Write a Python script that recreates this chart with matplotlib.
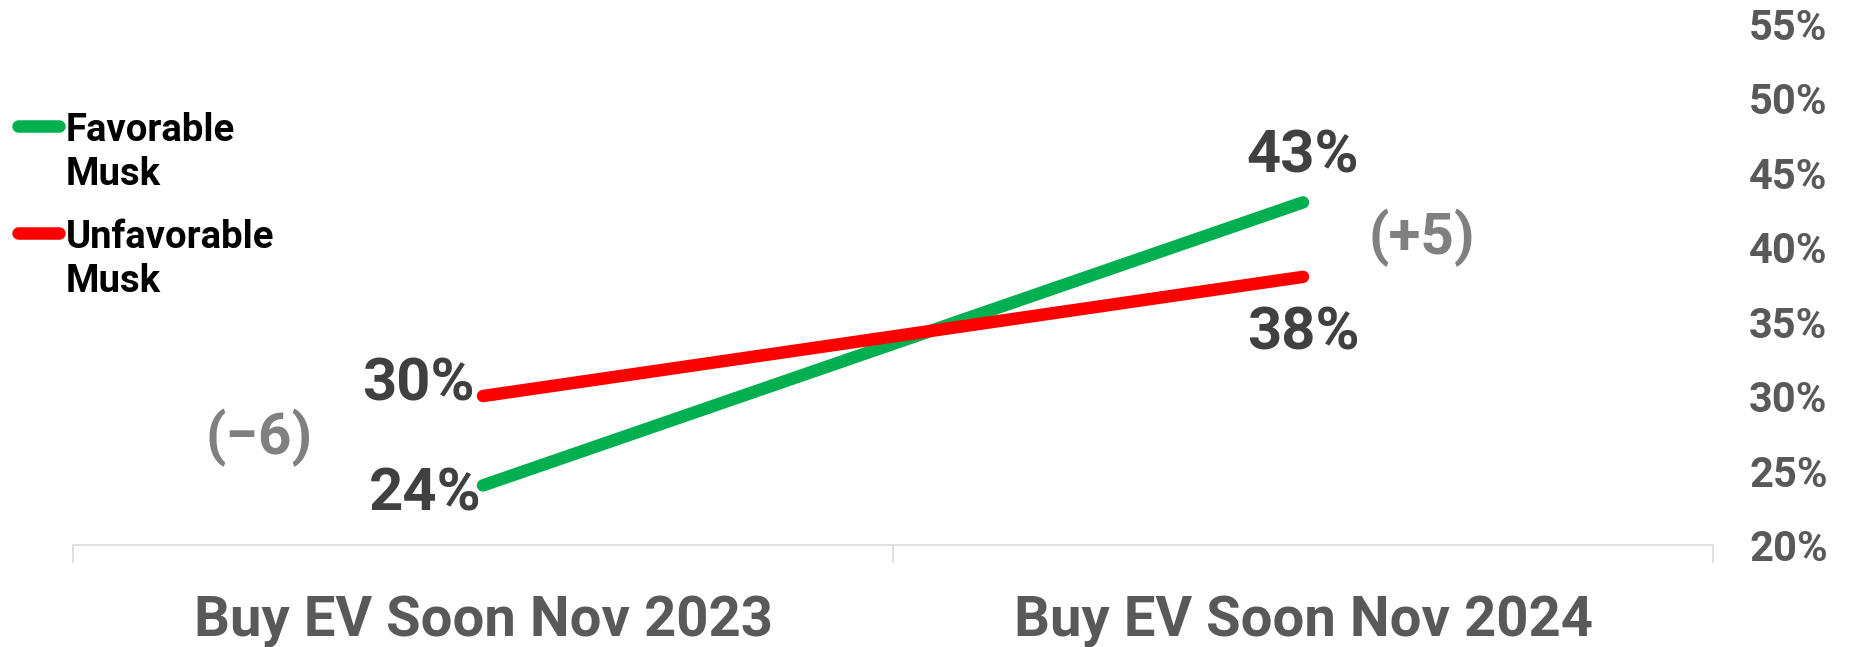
import matplotlib
matplotlib.use("Agg")
import matplotlib.pyplot as plt
from matplotlib.lines import Line2D

# ---- data ----
categories = ["Buy EV Soon Nov 2023", "Buy EV Soon Nov 2024"]
series_names = ["Favorable\nMusk", "Unfavorable\nMusk"]
favorable = [24, 43]
unfavorable = [30, 38]
changes = ["(\u22126)", "(+5)"]
yticks = [20, 25, 30, 35, 40, 45, 50, 55]
ytick_labels = [f"{v}%" for v in yticks]

GREEN = "#00B050"
RED = "#FF0000"
LABEL_C = "#404040"
TICK_C = "#595959"
CHANGE_C = "#808080"
AXIS_C = "#D9D9D9"

W, H = 1850, 647
fig = plt.figure(figsize=(W / 100, H / 100), dpi=100)
ax = fig.add_axes([73 / W, 102 / H, (1713 - 73) / W, (623.4 - 102) / H])

x = list(range(len(categories)))
ax.plot(x, favorable, color=GREEN, lw=9, solid_capstyle="round", zorder=3)
ax.plot(x, unfavorable, color=RED, lw=9, solid_capstyle="round", zorder=3)

ax.set_xlim(-0.5, len(categories) - 0.5)
ax.set_ylim(yticks[0], yticks[-1])

# data labels
lab_font = dict(family="Roboto", weight="bold", size=43, color=LABEL_C)
def lab(xi, yi, dx, dy, ha):
    ax.annotate(f"{yi}%", (xi, yi), xytext=(dx, dy), textcoords="offset pixels",
                ha=ha, va="baseline", **lab_font)

lab(x[0], unfavorable[0], -8, -4, "right")
lab(x[0], favorable[0], -1, -25, "right")
lab(x[1], favorable[1], 0, 30, "center")
lab(x[1], unfavorable[1], 0, -73, "center")

# change annotations
chg_font = dict(family="Roboto", weight="bold", size=42, color=CHANGE_C)
ax.text(-0.273, 27.2, changes[0], ha="center", va="center", **chg_font)
ax.text(1.145, 40.6, changes[1], ha="center", va="center", **chg_font)

# axes styling
for s in ["top", "left", "right"]:
    ax.spines[s].set_visible(False)
ax.spines["bottom"].set_color(AXIS_C)
ax.spines["bottom"].set_linewidth(1.2)

ax.set_xticks(x)
ax.set_xticklabels(categories, family="Roboto", weight="bold", size=40.5, color=TICK_C)
ax.set_xticks([-0.5, 0.5, 1.5], minor=True)
ax.tick_params(axis="x", which="major", length=0, pad=37)
ax.tick_params(axis="x", which="minor", length=13, width=1.2, color=AXIS_C)

ax.yaxis.tick_right()
ax.set_yticks(yticks)
ax.set_yticklabels(ytick_labels, family="Roboto", weight="bold", size=30, color=TICK_C)
ax.tick_params(axis="y", length=0, pad=26)

# legend (manual, handle aligned with first line)
leg_items = [(series_names[0], GREEN, 126, 185), (series_names[1], RED, 233, 292)]
for name, col, hy, by in leg_items:
    fig.add_artist(Line2D([18 / W, 59 / W], [1 - hy / H, 1 - hy / H], transform=fig.transFigure,
                          color=col, lw=9, solid_capstyle="round"))
    fig.text(66 / W, 1 - by / H, name, ha="left", va="baseline", family="Roboto",
             weight="bold", size=27.5, color="black", linespacing=1.23)

fig.savefig("out.png", dpi=100)
